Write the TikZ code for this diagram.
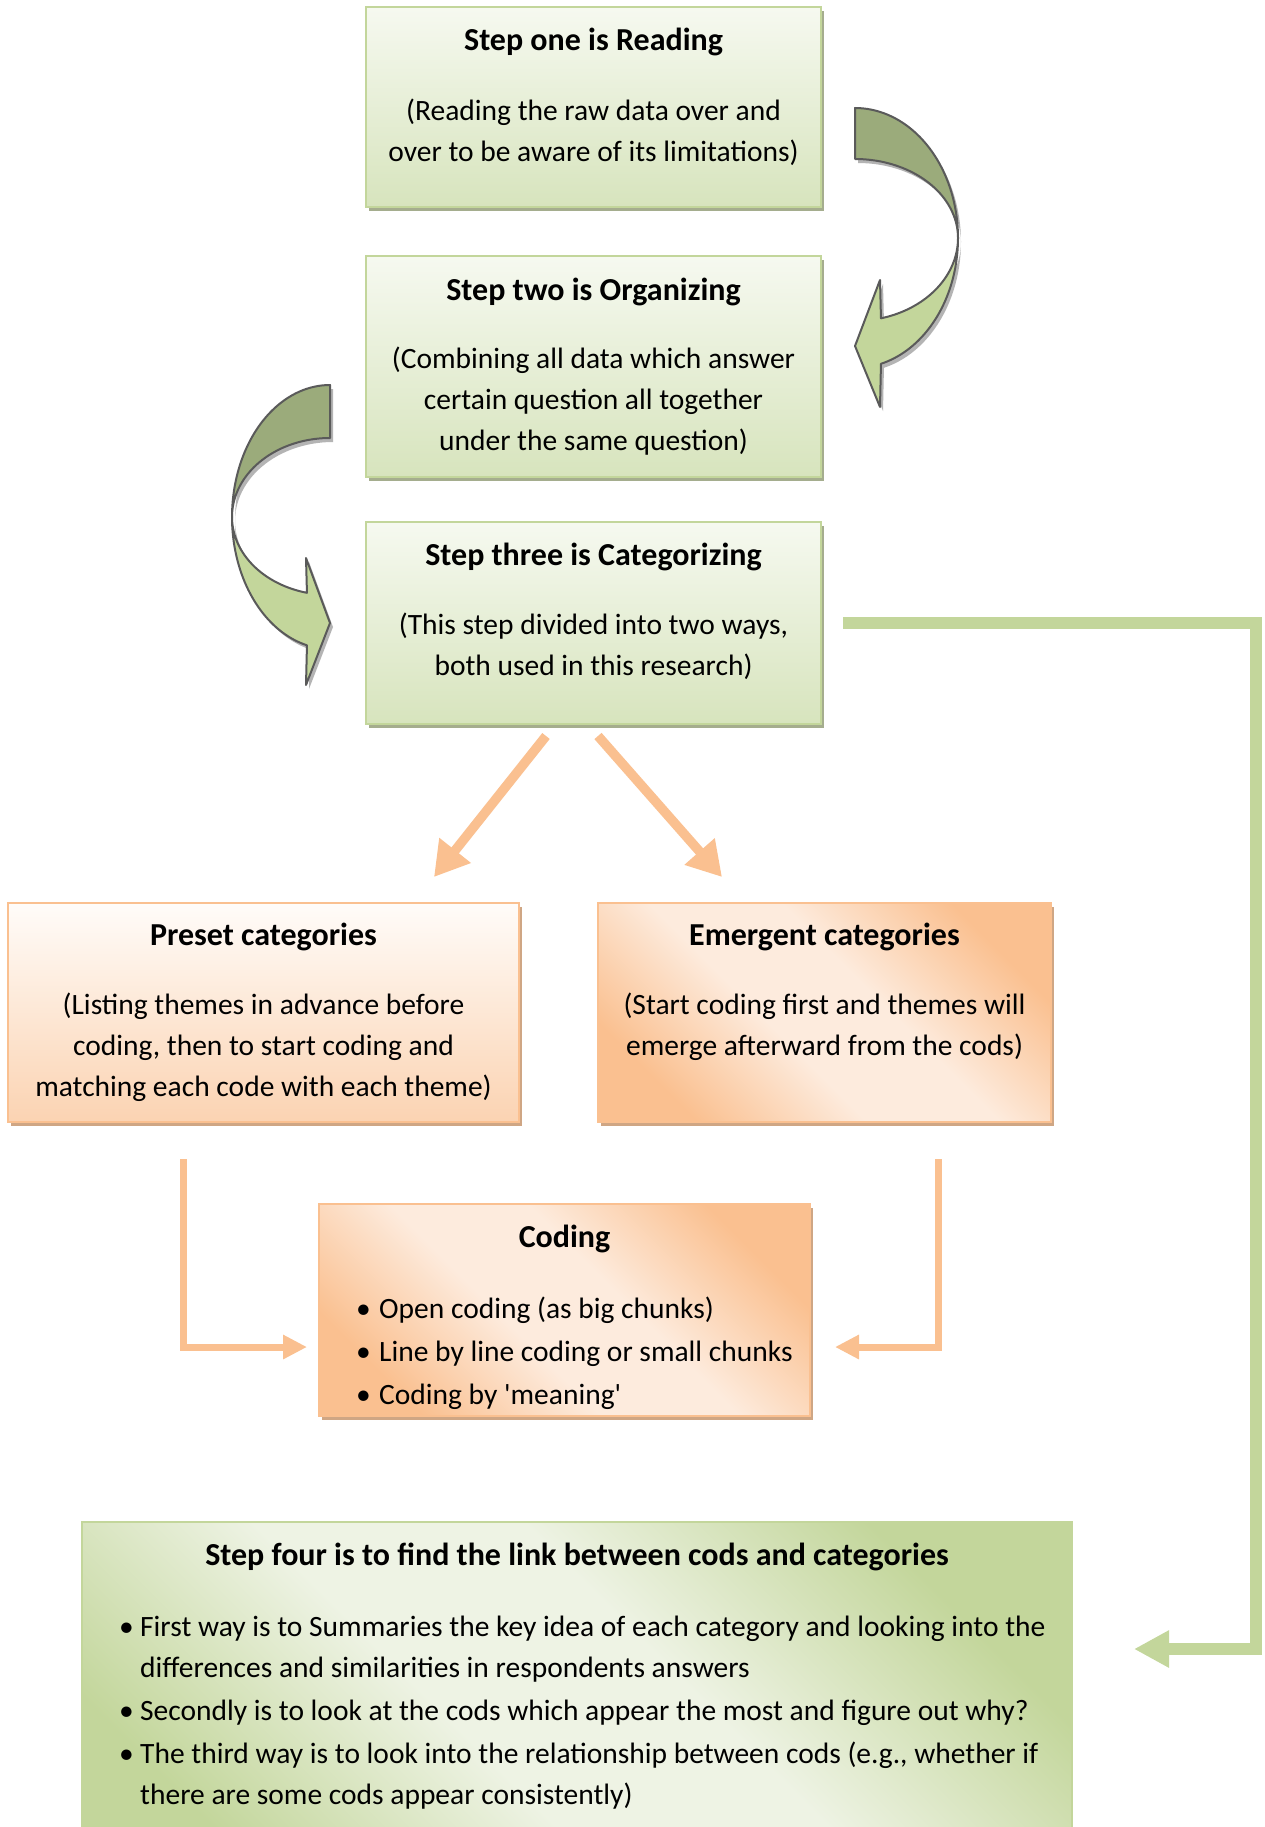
\documentclass[tikz,border=0pt]{standalone}
\usepackage{fontspec}
\setmainfont{Carlito}
\usetikzlibrary{arrows.meta,shadows,calc}

% palette
\definecolor{gTop}{HTML}{F6F9F0}
\definecolor{gBot}{HTML}{D7E4BD}
\definecolor{gEdge}{HTML}{C3D69B}
\definecolor{gShade}{HTML}{A5AD8E}
\definecolor{gLight}{HTML}{EEF3E4}
\definecolor{oDeep}{HTML}{FAC090}
\definecolor{oLight}{HTML}{FDEBDD}
\definecolor{oTop}{HTML}{FFFCF9}
\definecolor{oBot}{HTML}{FBD3B2}
\definecolor{oShade}{HTML}{CFA684}
\definecolor{arDark}{HTML}{9BAB7B}
\definecolor{arEdge}{HTML}{5A5A5A}
\definecolor{arShade}{HTML}{B4B4B4}

% diagonal fills: deep corners, broad light band across the middle
\pgfdeclareverticalshading{peachdiag}{100bp}{color(0bp)=(oDeep); color(25bp)=(oDeep);
  color(43bp)=(oLight); color(57bp)=(oLight); color(75bp)=(oDeep); color(100bp)=(oDeep)}
\pgfdeclareverticalshading{greendiag}{100bp}{color(0bp)=(gEdge); color(25bp)=(gEdge);
  color(43bp)=(gLight); color(57bp)=(gLight); color(75bp)=(gEdge); color(100bp)=(gEdge)}

\newcommand{\bodyfont}{\fontsize{29.5pt}{41pt}\selectfont}
\newcommand{\titlefont}{\fontsize{32pt}{41pt}\selectfont\bfseries}
\newcommand{\bul}[1]{\makebox[#1][l]{\textbullet}}

\begin{document}
\begin{tikzpicture}[x=1pt,y=-1pt,
  panel/.style={rectangle, inner sep=0pt, line width=2pt},
  greenpanel/.style={panel, draw=gEdge, top color=gTop, bottom color=gBot,
    drop shadow={shadow xshift=3pt, shadow yshift=-4pt, fill=gShade, opacity=1}},
  peachpanel/.style={panel, draw=oDeep, top color=oTop, bottom color=oBot,
    drop shadow={shadow xshift=3pt, shadow yshift=-4pt, fill=oShade, opacity=1}},
  orangediag/.style={panel, draw=oDeep, shade, shading=peachdiag, shading angle=-45,
    drop shadow={shadow xshift=3pt, shadow yshift=-4pt, fill=oShade, opacity=1}},
  greenwide/.style={panel, draw=gEdge, shade, shading=greendiag, shading angle=-45},
  ttl/.style={anchor=base, inner sep=0pt, font=\titlefont},
  bodytext/.style={anchor=north, inner sep=0pt, align=center, font=\bodyfont},
  listtext/.style={anchor=north west, inner sep=0pt, align=left, font=\bodyfont},
  oline/.style={draw=oDeep, line width=7pt, -{Triangle[length=24pt,width=23pt]}},
  odiag/.style={draw=oDeep, line width=9.5pt, -{Triangle[length=34pt,width=38pt]}},
  gline/.style={draw=gEdge, line width=12pt, -{Triangle[length=35pt,width=35pt]}},
  bendpiece/.style={draw=arEdge, line width=2pt, line join=round},
]
\clip (0,0) rectangle (1265,1827);
\fill[white] (0,0) rectangle (1265,1827);

% ---------- step boxes ----------
\node[greenpanel, minimum width=455pt, minimum height=200pt] (s1) at (593.5,107) {};
\node[ttl] (s1t) at (593.5,51) {Step one is Reading};
\node[bodytext] (s1b) at (593.5,91.3) {\strut(Reading the raw data over and\\over to be aware of its limitations)};

\node[greenpanel, minimum width=455pt, minimum height=221pt] (s2) at (593.5,366.5) {};
\node[ttl] (s2t) at (593.5,300) {Step two is Organizing};
\node[bodytext] (s2b) at (593.5,339.3) {\strut(Combining all data which answer\\certain question all together\\under the same question)};

\node[greenpanel, minimum width=455pt, minimum height=202pt] (s3) at (593.5,623) {};
\node[ttl] (s3t) at (593.5,565) {Step three is Categorizing};
\node[bodytext] (s3b) at (593.5,605.3) {\strut(This step divided into two ways,\\both used in this research)};

\node[peachpanel, minimum width=511pt, minimum height=219pt] (pre) at (263.5,1012.5) {};
\node[ttl] (pret) at (263.5,945) {Preset categories};
\node[bodytext] (preb) at (263.5,985.3) {\strut(Listing themes in advance before\\coding, then to start coding and\\matching each code with each theme)};

\node[orangediag, minimum width=453pt, minimum height=219pt] (emer) at (824.5,1012.5) {};
\node[ttl] (emert) at (824.5,945) {Emergent categories};
\node[bodytext] (emerb) at (824.5,985.3) {\strut(Start coding first and themes will\\emerge afterward from the cods)};

\node[orangediag, minimum width=491pt, minimum height=212pt] (cod) at (564.5,1310) {};
\node[ttl] (codt) at (564.5,1247) {Coding};
\node[listtext] (codb) at (356,1289.3) {\strut\bul{23pt}Open coding (as big chunks)\\[2pt]
  \bul{23pt}Line by line coding or small chunks\\[2pt]
  \bul{23pt}Coding by \textquotesingle meaning\textquotesingle};

\node[greenwide, minimum width=990pt, minimum height=378pt] (s4) at (577,1711) {};
\node[ttl] (s4t) at (577,1565) {Step four is to find the link between cods and categories};
\node[listtext] (s4b) at (119,1607.3) {\strut\bul{21pt}First way is to Summaries the key idea of each category and looking into the\\
  \hspace*{21pt}differences and similarities in respondents answers\\[2pt]
  \bul{21pt}Secondly is to look at the cods which appear the most and figure out why?\\[2pt]
  \bul{21pt}The third way is to look into the relationship between cods (e.g., whether if\\
  \hspace*{21pt}there are some cods appear consistently)};

% ---------- curved block arrows between the first three steps ----------
% right-hand arrow, shadow first
\begin{scope}[shift={(3,4)}]
  \fill[arShade] plot[domain=-90:75.4,samples=60] ({855+103*cos(\x)},{238+130*sin(\x)})
    -- (880,407) -- (855,346) -- (880,280)
    -- plot[domain=75.4:0,samples=30] ({855+103*cos(\x)},{238+83*sin(\x)})
    -- plot[domain=0:-90,samples=30] ({855+103*cos(\x)},{238+79*sin(\x)}) -- cycle;
\end{scope}
\path[bendpiece, fill=gEdge] plot[domain=0:75.4,samples=40] ({855+103*cos(\x)},{238+130*sin(\x)})
    -- (880,407) -- (855,346) -- (880,280)
    -- plot[domain=75.4:0,samples=40] ({855+103*cos(\x)},{238+83*sin(\x)}) -- cycle;
\path[bendpiece, fill=arDark] plot[domain=-90:0,samples=40] ({855+103*cos(\x)},{238+130*sin(\x)})
    -- plot[domain=0:-90,samples=40] ({855+103*cos(\x)},{238+79*sin(\x)}) -- cycle;

% left-hand arrow, shadow first
\begin{scope}[shift={(3,4)}]
  \fill[arShade] plot[domain=-90:76.4,samples=60] ({330-98*cos(\x)},{517+132*sin(\x)})
    -- (306,685) -- (330,623) -- (306,558)
    -- plot[domain=76.4:0,samples=30] ({330-98*cos(\x)},{517+78*sin(\x)})
    -- plot[domain=0:-90,samples=30] ({330-98*cos(\x)},{517+79*sin(\x)}) -- cycle;
\end{scope}
\path[bendpiece, fill=gEdge] plot[domain=0:76.4,samples=40] ({330-98*cos(\x)},{517+132*sin(\x)})
    -- (306,685) -- (330,623) -- (306,558)
    -- plot[domain=76.4:0,samples=40] ({330-98*cos(\x)},{517+78*sin(\x)}) -- cycle;
\path[bendpiece, fill=arDark] plot[domain=-90:0,samples=40] ({330-98*cos(\x)},{517+132*sin(\x)})
    -- plot[domain=0:-90,samples=40] ({330-98*cos(\x)},{517+79*sin(\x)}) -- cycle;

% ---------- connectors ----------
\coordinate (d1s) at ($(s3.south)+(-47.5,11)$);
\coordinate (d1e) at ($(pre.north)+(170.5,-25)$);
\coordinate (d2s) at ($(s3.south)+(4.5,11)$);
\coordinate (d2e) at ($(emer.north)+(-102.5,-25)$);
\draw[odiag] (d1s) -- (d1e);
\draw[odiag] (d2s) -- (d2e);

\draw[oline] ($(pre.south)+(-80.5,36)$) |- ($(cod.west)+(-11,37)$);
\draw[oline] ($(emer.south)+(113.5,36)$) |- ($(cod.east)+(24,37)$);

\coordinate (gs) at ($(s3.east)+(21,0)$);
\coordinate (gc) at ($(s3.east)+(434,0)$);
\draw[gline] (gs) -- (gc) |- ($(s4.east)+(61,-62)$);
\end{tikzpicture}
\end{document}
